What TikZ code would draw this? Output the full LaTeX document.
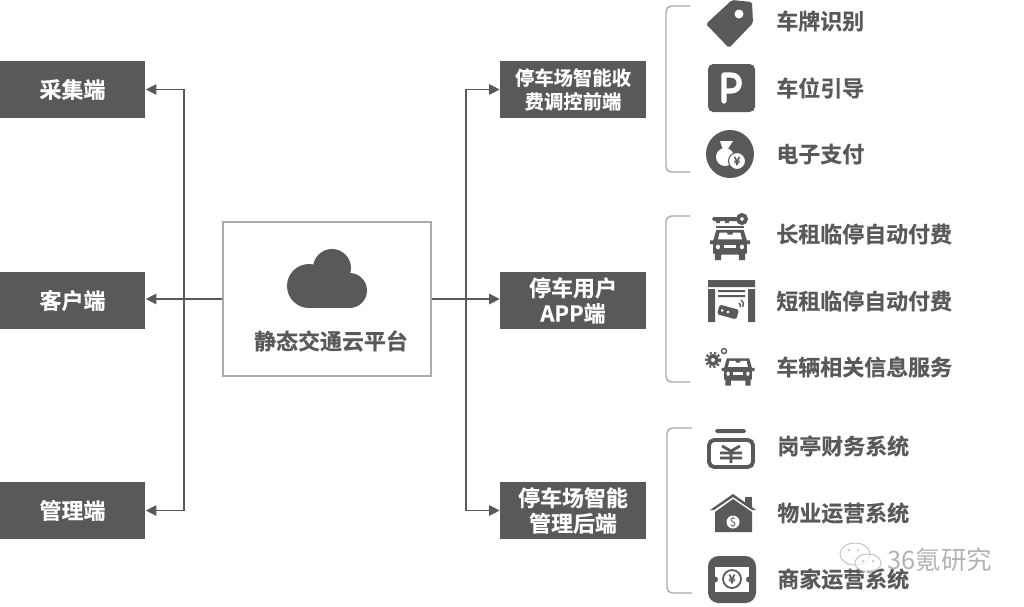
\documentclass[tikz,border=0pt]{standalone}
\usepackage{fontspec}
\setmainfont{Noto Sans CJK SC}[BoldFont={Noto Sans CJK SC Bold}, BoldFeatures={FakeBold=0.4}]
\usetikzlibrary{arrows.meta}
\definecolor{darkgrey}{HTML}{595959}
\definecolor{framegrey}{HTML}{ABABAB}
\tikzset{
    endbox/.style={fill=darkgrey, text=white, minimum width=2.92cm, minimum height=1.14cm, align=center, inner sep=0pt, font=\fontsize{12.5}{14.5}\selectfont\bfseries},
    itemtext/.style={anchor=west, inner sep=0pt, text=darkgrey, font=\fontsize{12.5}{15}\selectfont\bfseries},
    link/.style={draw=darkgrey, line width=0.7pt},
    linkarrow/.style={link, -{Triangle[length=6pt,width=6pt]}},
    bracket/.style={draw=framegrey, line width=0.8pt, rounded corners=3pt},
    carpic/.pic={
        \fill[darkgrey] (-17,-16) -- (17,-16) -- (21,-5) -- (25,-5) -- (25,-1) -- (21,-1) -- (21,9) -- (19,9) -- (19,16) -- (11,16) -- (11,10) -- (-11,10) -- (-11,16) -- (-19,16) -- (-19,9) -- (-21,9) -- (-21,-1) -- (-25,-1) -- (-25,-5) -- (-21,-5) -- cycle;
        \fill[white] (-13,-13) -- (-4,-13) -- (-3,-11) -- (3,-11) -- (4,-13) -- (13,-13) -- (15,-6) -- (-15,-6) -- cycle;
        \fill[white] (-15,2) circle (2.5) (15,2) circle (2.5);
        \fill[white] (-8,0.5) rectangle (8,3);
    }
}
\begin{document}
\begin{tikzpicture}[x=0.02cm, y=-0.02cm]
    \useasboundingbox (0,0) rectangle (1024,606);
    % left side
    \node[endbox] (collect) at (72.5,89.5) {采集端};
    \node[endbox] (client) at (72.5,300.5) {客户端};
    \node[endbox] (manage) at (72.5,510.5) {管理端};
    % platform
    \node[draw=framegrey, line width=0.8pt, minimum width=4.16cm, minimum height=3.08cm, inner sep=0pt] (hub) at (327,299) {};
    \fill[darkgrey] (332,268) circle (19);
    \fill[darkgrey] (309,286) circle (22);
    \fill[darkgrey] (349.5,290.5) circle (17.5);
    \fill[darkgrey] (309,272) rectangle (350,308);
    \node[inner sep=0pt, text=darkgrey, font=\fontsize{12.5}{15}\selectfont\bfseries] (hubtext) at (331,341) {静态交通云平台};
    % right side
    \node[endbox, font=\fontsize{11}{13.5}\selectfont\bfseries] (front) at (573,89.5) {停车场智能收\\费调控前端};
    \node[endbox] (app) at (573,300.5) {停车用户\\APP端};
    \node[endbox] (back) at (573,510.5) {停车场智能\\管理后端};
    % connectors
    \coordinate (busleft) at (184,299);
    \coordinate (busright) at (466,299);
    \draw[linkarrow] (hub.west) -- (client.east |- hub.west);
    \draw[linkarrow] (busleft) |- (collect.east);
    \draw[linkarrow] (busleft) |- (manage.east);
    \draw[linkarrow] (hub.east) -- (app.west |- hub.east);
    \draw[linkarrow] (busright) |- (front.west);
    \draw[linkarrow] (busright) |- (back.west);
    % brackets
    \draw[bracket] (690,6) -- (666,6) -- (666,172) -- (690,172);
    \draw[bracket] (690,216) -- (666,216) -- (666,382) -- (690,382);
    \draw[bracket] (692,428) -- (667,428) -- (667,593) -- (692,593);
    % labels
    \node[itemtext] (item1) at (776,21) {车牌识别};
    \node[itemtext] (item2) at (776,88) {车位引导};
    \node[itemtext] (item3) at (776,154) {电子支付};
    \node[itemtext] (item4) at (776,234) {长租临停自动付费};
    \node[itemtext] (item5) at (776,301) {短租临停自动付费};
    \node[itemtext] (item6) at (776,367) {车辆相关信息服务};
    \node[itemtext] (item7) at (777,446) {岗亭财务系统};
    \node[itemtext] (item8) at (777,513) {物业运营系统};
    \node[itemtext] (item9) at (777,579) {商家运营系统};
    % tag
    \fill[darkgrey, rounded corners=1pt] (706,24) -- (732,0) -- (752,2) -- (753,23) -- (729,48) -- cycle;
    \fill[white] (739,14) circle (4.5);
    % parking sign
    \fill[darkgrey, rounded corners=3pt] (708,64) rectangle (755,112);
    \draw[white, line width=3pt, line cap=round, line join=round] (724,101) -- (724,75) -- (731,75) .. controls (742,75) and (742,91) .. (731,91) -- (724,91);
    % money bag
    \fill[darkgrey] (730,154) circle (24);
    \fill[white] (725,157) circle (9);
    \fill[white] (720,141) -- (733,141) -- (727,150) -- (723,150) -- cycle;
    \fill[white, draw=darkgrey, line width=0.6pt] (737,161) circle (8.5);
    \node[inner sep=0pt, text=darkgrey, font=\fontsize{6.5}{7}\selectfont\bfseries] (coin) at (737,161) {¥};
    % key and car
    \fill[darkgrey, rounded corners=1pt] (712,217) rectangle (738,221);
    \fill[darkgrey] (716,221) rectangle (720,223) (725,221) rectangle (729,223);
    \draw[darkgrey, line width=2.2pt] (742,219) circle (4);
    \fill[darkgrey] (716,226) rectangle (744,228);
    \pic[xscale=0.8, yscale=0.95] at (730,245) {carpic};
    % gate
    \fill[darkgrey] (708,280) rectangle (755,287) (708,289) rectangle (715,322) (748,289) rectangle (755,322);
    \fill[darkgrey] (718,290) rectangle (745,292) (718,295) rectangle (745,297);
    \begin{scope}[rotate around={-15:(728,312)}]
        \fill[darkgrey, rounded corners=1pt] (718,307) rectangle (738,317);
        \fill[white] (722,312) circle (1.5) (728,312) circle (1.5);
    \end{scope}
    \draw[darkgrey, line width=0.8pt] (739,303) arc (-60:30:3) (741,300) arc (-60:30:5);
    % gears and car
    \draw[darkgrey, line width=2pt] (713,360) circle (4);
    \draw[darkgrey, line width=1.3pt, dash pattern=on 1.2pt off 1.2pt] (713,360) circle (7);
    \draw[darkgrey, line width=0.8pt] (724,351) circle (2.5);
    \pic[xscale=0.66, yscale=0.85] at (738,372) {carpic};
    % cash box
    \fill[darkgrey, rounded corners=1pt] (715,429) rectangle (746,433);
    \draw[darkgrey, line width=2.2pt, rounded corners=3pt] (709,440) rectangle (753,467);
    \draw[darkgrey, line width=1.6pt] (722,446) -- (731,451) -- (740,446) (720,453) -- (742,453) (720,458) -- (742,458) (731,451) -- (731,463);
    % house
    \fill[darkgrey] (745,497) rectangle (752,510);
    \fill[white] (708,512) -- (733,497) -- (758,512) -- cycle;
    \fill[darkgrey] (710,510) -- (733,494) -- (756,510) -- (752,510) -- (733,497) -- (714,510) -- cycle;
    \fill[darkgrey] (715,512) -- (733,499) -- (752,512) -- (752,532) -- (715,532) -- cycle;
    \fill[white] (733,522) circle (6.5);
    \node[inner sep=0pt, text=darkgrey, font=\fontsize{6.5}{7}\selectfont] (dollar) at (733,522) {\$};
    % ticket
    \fill[darkgrey, rounded corners=6pt] (708,556) rectangle (756,603);
    \fill[white] (715,567) rectangle (749,592);
    \fill[darkgrey] (715,579.5) circle (3);
    \fill[darkgrey] (749,579.5) circle (3);
    \draw[darkgrey, line width=1pt] (732,579) circle (9);
    \node[inner sep=0pt, text=darkgrey, font=\fontsize{7}{8}\selectfont\bfseries] (yuan) at (732,579) {¥};
    % watermark
    \draw[black!25, line width=0.5pt, fill=white, fill opacity=0.5] (855,554) ellipse (15 and 11);
    \draw[black!25, line width=0.5pt, fill=white, fill opacity=0.7] (868,563) ellipse (13 and 9);
    \fill[black!30] (849,550) circle (1) (858,550) circle (1) (863,561) circle (1) (873,561) circle (1);
    \node[inner sep=0pt, anchor=west, text=black!30, font=\fontsize{14.5}{16}\selectfont] (mark) at (887,560) {36氪研究};
\end{tikzpicture}
\end{document}
